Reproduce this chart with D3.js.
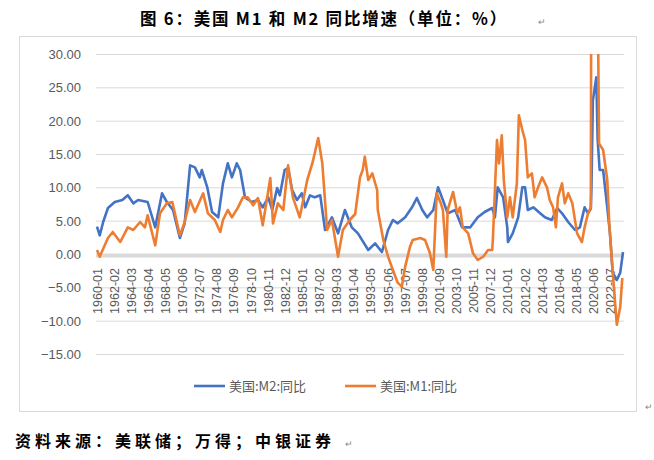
<!DOCTYPE html>
<html>
<head>
<meta charset="utf-8">
<script src="https://cdn.jsdelivr.net/npm/d3@7"></script>
<style>
  body { margin: 0; background: #fff; }
  text { font-family: "Liberation Sans", Arial, sans-serif; }
</style>
</head>
<body>
<svg id="chart" width="654" height="460"></svg>
<script>
// values (M1 spike in 2020 runs far off the top, clipped as in the source)
const m2Dates = ['1960-01','1960-05','1960-10','1961-05','1962-03','1963-02','1963-10','1964-06','1965-01','1966-03','1967-02','1967-12','1968-07','1969-04','1970-02','1970-09','1971-05','1971-12','1972-07','1972-10','1973-06','1974-01','1974-10','1975-05','1975-12','1976-06','1977-01','1977-06','1978-01','1978-11','1979-08','1980-03','1980-11','1981-05','1981-12','1982-04','1982-11','1983-04','1983-10','1984-05','1984-12','1985-05','1985-12','1986-07','1987-03','1987-10','1988-08','1989-05','1990-03','1991-01','1991-10','1993-01','1993-11','1994-09','1995-06','1996-01','1996-08','1997-07','1998-05','1998-12','1999-08','2000-03','2000-12','2001-07','2002-02','2002-09','2003-08','2004-06','2005-06','2006-05','2007-03','2008-02','2008-06','2008-10','2009-06','2009-12','2010-01','2010-08','2011-04','2011-10','2012-02','2012-06','2013-02','2013-12','2014-07','2015-05','2016-01','2016-08','2017-05','2018-03','2018-10','2019-05','2019-10','2020-02','2020-03','2020-05','2020-10','2020-12','2021-03','2021-08','2022-02','2022-06','2022-10','2023-04','2023-09','2024-01']
const m2Values = [4.1,2.8,4.8,6.9,7.8,8.1,8.8,7.6,8.1,7.8,4.0,9.1,7.8,6.6,2.4,4.6,13.3,13.0,11.5,12.6,10.0,6.3,5.5,10.6,13.6,11.5,13.6,12.6,8.5,7.8,8.1,7.0,8.5,6.6,9.9,8.8,12.6,12.9,9.6,8.1,9.1,7.0,8.8,8.5,8.8,3.6,5.5,3.1,6.6,4.0,3.1,0.6,1.6,0.3,3.6,5.1,4.6,5.5,7.0,8.4,6.6,5.5,6.6,10.0,8.1,6.1,6.6,4.0,4.0,5.5,6.3,6.9,5.5,10.0,8.5,4.0,1.8,3.1,5.5,10.0,10.0,6.6,7.0,6.1,5.5,5.1,6.9,6.1,4.8,3.6,4.0,7.0,6.1,6.8,10.0,23.0,26.5,17.1,12.6,12.6,7.0,3.1,-2.8,-3.9,-2.8,0.3]

const m1Dates = ['1960-01','1960-05','1961-05','1961-12','1962-11','1963-10','1964-06','1965-04','1965-11','1966-03','1967-02','1967-09','1968-07','1969-03','1970-02','1970-09','1971-05','1971-12','1972-12','1973-07','1974-05','1975-01','1975-05','1975-12','1976-06','1977-03','1977-10','1978-05','1979-01','1979-08','1980-03','1981-02','1981-06','1982-01','1982-09','1983-04','1983-11','1984-09','1985-08','1986-04','1986-12','1987-06','1988-01','1988-08','1989-05','1989-12','1990-10','1991-06','1992-01','1992-05','1992-08','1993-01','1993-07','1994-02','1994-03','1994-11','1995-06','1996-01','1996-08','1997-02','1997-07','1998-02','1998-06','1999-05','1999-12','2000-07','2000-12','2001-05','2001-11','2002-02','2002-07','2002-09','2003-05','2003-11','2004-03','2004-07','2005-03','2005-10','2006-05','2007-01','2007-08','2008-02','2008-03','2008-09','2008-12','2009-04','2009-07','2009-12','2010-04','2010-08','2011-02','2011-05','2011-10','2012-02','2012-06','2012-12','2013-04','2013-09','2014-03','2014-10','2015-02','2015-07','2015-11','2016-02','2016-08','2016-12','2017-05','2017-11','2018-06','2019-01','2019-05','2019-10','2020-02','2020-03','2020-11','2020-12','2021-02','2021-08','2022-02','2022-05','2022-10','2023-04','2023-09','2023-12']
const m1Values = [0.6,-0.4,2.4,3.3,1.8,4.0,3.6,4.8,4.0,5.8,1.3,6.1,7.6,7.8,2.8,4.8,8.1,6.3,9.1,6.1,5.1,3.3,5.1,6.6,5.5,7.0,8.5,8.5,7.3,8.4,4.3,11.4,4.6,7.6,6.6,13.3,8.5,5.5,11.1,13.8,17.4,13.6,3.6,5.1,-0.4,3.6,5.1,6.0,11.5,12.6,14.6,11.1,12.1,9.6,6.6,2.1,-0.4,-2.4,-4.3,-4.9,-1.9,1.1,2.1,2.4,2.1,0.2,-2.4,9.1,7.6,6.6,-0.4,6.6,9.3,6.1,7.0,4.0,3.1,0.1,-0.9,-0.4,0.6,0.6,2.1,17.1,13.6,17.8,11.1,5.5,8.5,5.5,10.6,20.8,18.6,17.1,11.5,12.1,8.5,10.0,11.5,10.0,8.1,7.0,4.0,8.5,10.6,7.6,9.1,7.6,3.1,1.8,4.0,6.1,7.0,60,60,40,16.6,15.6,11.1,4.6,-2.8,-10.6,-7.9,-3.6]

const tickLabels = ['1960-01','1962-02','1964-03','1966-04','1968-05','1970-06','1972-07','1974-08','1976-09','1978-10','1980-11','1982-12','1985-01','1987-02','1989-03','1991-04','1993-05','1995-06','1997-07','1999-08','2001-09','2003-10','2005-11','2007-12','2010-01','2012-02','2014-03','2016-04','2018-05','2020-06','2022-07']
const yTicks = [30, 25, 20, 15, 10, 5, 0, -5, -10, -15]

const seriesNames = ['美国:M2:同比', '美国:M1:同比']
const colors = ['#4472c4', '#ed7d31']

const parse = d3.timeParse('%Y-%m')
const svg = d3.select('#chart')

const x = d3.scaleTime()
    .domain([parse('1960-01'), parse('2024-01')])
    .range([97, 623])
const y = d3.scaleLinear().domain([-15, 30]).range([354, 54])

// outer frame
svg.append('rect')
    .attr('x', 19.5).attr('y', 36.5).attr('width', 617).attr('height', 375)
    .attr('fill', 'none').attr('stroke', '#d9d9d9')

svg.append('text')
    .attr('x', 140).attr('y', 25)
    .style('font-family', '"Noto Sans CJK SC"').style('font-weight', 'bold')
    .style('font-size', '16.5px').style('letter-spacing', '1.8px')
    .text('图 6：美国 M1 和 M2 同比增速（单位：%）')
svg.append('text').attr('x', 538).attr('y', 25)
    .style('font-size', '9px').attr('fill', '#888').text('↵')

// grid + y labels
svg.append('g').selectAll('line')
    .data(yTicks.filter(d => d !== 0))
  .join('line')
    .attr('x1', 96).attr('x2', 624)
    .attr('y1', d => y(d) + 0.5).attr('y2', d => y(d) + 0.5)
    .attr('stroke', '#d9d9d9')
svg.append('g').selectAll('text')
    .data(yTicks)
  .join('text')
    .attr('x', 81).attr('y', d => y(d) + 5)
    .attr('text-anchor', 'end')
    .attr('fill', '#595959').style('font-size', '13px')
    .text(d => d3.format('.2f')(d))

// zero axis is a thick grey band
svg.append('line')
    .attr('x1', 96).attr('x2', 624)
    .attr('y1', y(0) + 1.5).attr('y2', y(0) + 1.5)
    .attr('stroke', '#d9d9d9').attr('stroke-width', 4)

// rotated category labels
svg.append('g').selectAll('text')
    .data(tickLabels)
  .join('text')
    .attr('transform', d => `translate(${x(parse(d)) + 4.5},268) rotate(-90)`)
    .attr('text-anchor', 'end')
    .attr('fill', '#595959').style('font-size', '12.5px')
    .text(d => d)

svg.append('clipPath').attr('id', 'plot')
  .append('rect').attr('x', 90).attr('y', 54).attr('width', 540).attr('height', 300)

const line = d3.line()
    .x(d => x(parse(d[0])))
    .y(d => y(d[1]))

const series = [d3.zip(m2Dates, m2Values), d3.zip(m1Dates, m1Values)]
svg.append('g').attr('clip-path', 'url(#plot)')
    .selectAll('path')
    .data(series)
  .join('path')
    .attr('d', line)
    .attr('fill', 'none')
    .attr('stroke', (d, i) => colors[i])
    .attr('stroke-width', 2.6)
    .attr('stroke-linejoin', 'round')

// legend
const legend = svg.append('g').selectAll('g')
    .data(seriesNames)
  .join('g')
    .attr('transform', (d, i) => `translate(${194 + i * 151},386)`)
legend.append('line')
    .attr('x1', 0).attr('x2', 31)
    .attr('stroke', (d, i) => colors[i]).attr('stroke-width', 2.6)
legend.append('text')
    .attr('x', 35).attr('y', 5)
    .attr('fill', '#595959').style('font-size', '13px')
    .style('font-family', '"Noto Sans CJK SC"')
    .text(d => d)

svg.append('text').attr('x', 645).attr('y', 410)
    .style('font-size', '9px').attr('fill', '#888').text('↵')

svg.append('text')
    .attr('x', 15).attr('y', 447)
    .style('font-family', '"Noto Sans CJK SC"').style('font-weight', 'bold')
    .style('font-size', '16px').style('letter-spacing', '4px')
    .text('资料来源：美联储；万得；中银证券')
svg.append('text').attr('x', 345).attr('y', 447)
    .style('font-size', '9px').attr('fill', '#888').text('↵')
</script>
</body>
</html>
